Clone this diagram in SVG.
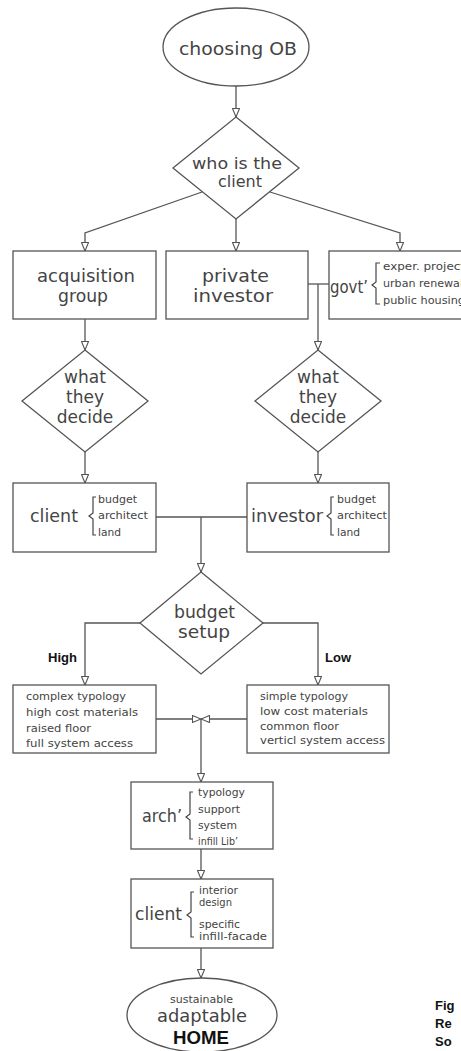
<svg xmlns="http://www.w3.org/2000/svg" width="461" height="1051" viewBox="0 0 461 1051">
  <defs>
    <style>
      .shape { fill: #fff; stroke: #555; stroke-width: 1.3; }
      .wire { fill: none; stroke: #555; stroke-width: 1.3; }
      .brace { fill: none; stroke: #444; stroke-width: 1.2; }
      text { font-family: "DejaVu Sans", "Liberation Sans", sans-serif; fill: #444; }
      .big { font-size: 17px; }
      .mid { font-size: 15px; }
      .small { font-size: 10.5px; }
      .lbl { font-family: "Liberation Sans", Arial, sans-serif; font-weight: bold; font-size: 13px; fill: #111; }
      .c { text-anchor: middle; }
    </style>
    <marker id="arr" viewBox="0 0 9 8" refX="9" refY="4" markerWidth="9" markerHeight="8" markerUnits="userSpaceOnUse" orient="auto">
      <path d="M0.5,0.5 L9,4 L0.5,7.5 Z" fill="#fff" stroke="#555" stroke-width="1.1"/>
    </marker>
  </defs>
  <rect width="461" height="1051" fill="#fff"/>

  <!-- connectors -->
  <g id="connectors">
    <path class="wire" d="M236,86 V117" marker-end="url(#arr)"/>
    <path class="wire" d="M202,192 L85,233 V251" marker-end="url(#arr)"/>
    <path class="wire" d="M236,219 V251" marker-end="url(#arr)"/>
    <path class="wire" d="M270,192 L400,233 V251" marker-end="url(#arr)"/>
    <path class="wire" d="M85,319 V350" marker-end="url(#arr)"/>
    <path class="wire" d="M308,284 H329"/>
    <path class="wire" d="M318,284 V350" marker-end="url(#arr)"/>
    <path class="wire" d="M85,452 V483" marker-end="url(#arr)"/>
    <path class="wire" d="M318,452 V483" marker-end="url(#arr)"/>
    <path class="wire" d="M156,517 H247"/>
    <path class="wire" d="M201,517 V572" marker-end="url(#arr)"/>
    <path class="wire" d="M140,623 H85 V685" marker-end="url(#arr)"/>
    <path class="wire" d="M263,623 H318 V685" marker-end="url(#arr)"/>
    <path class="wire" d="M156,719 H201" marker-end="url(#arr)"/>
    <path class="wire" d="M247,719 H201" marker-end="url(#arr)"/>
    <path class="wire" d="M201,719 V782" marker-end="url(#arr)"/>
    <path class="wire" d="M201,849 V879" marker-end="url(#arr)"/>
    <path class="wire" d="M201,948 V978" marker-end="url(#arr)"/>
  </g>

  <!-- start -->
  <g id="start">
    <ellipse class="shape" cx="236" cy="47" rx="73" ry="39"/>
    <text class="big" x="179" y="55" textLength="118" lengthAdjust="spacingAndGlyphs">choosing OB</text>
  </g>

  <g id="who-client">
    <path class="shape" d="M236,117 L299,168 L236,219 L173,168 Z"/>
    <text class="mid" x="192" y="169" textLength="90" lengthAdjust="spacingAndGlyphs">who is the</text>
    <text class="mid" x="218" y="187" textLength="44" lengthAdjust="spacingAndGlyphs">client</text>
  </g>

  <g id="acquisition-group">
    <rect class="shape" x="13" y="251" width="143" height="68"/>
    <text class="big" x="37" y="282" textLength="98" lengthAdjust="spacingAndGlyphs">acquisition</text>
    <text class="big" x="58" y="302" textLength="50" lengthAdjust="spacingAndGlyphs">group</text>
  </g>

  <g id="private-investor">
    <rect class="shape" x="166" y="251" width="142" height="68"/>
    <text class="big" x="202" y="282" textLength="67" lengthAdjust="spacingAndGlyphs">private</text>
    <text class="big" x="193" y="302" textLength="80" lengthAdjust="spacingAndGlyphs">investor</text>
  </g>

  <g id="govt">
    <rect class="shape" x="329" y="251" width="142" height="68"/>
    <text class="big" x="330" y="293" textLength="38" lengthAdjust="spacingAndGlyphs">govt’</text>
    <path class="brace" d="M380,263 H376 V282 L372,285 L376,288 V304 H380"/>
    <text class="small" x="383" y="270" textLength="82" lengthAdjust="spacingAndGlyphs">exper. project</text>
    <text class="small" x="383" y="287" textLength="80" lengthAdjust="spacingAndGlyphs">urban renewal</text>
    <text class="small" x="383" y="304" textLength="82" lengthAdjust="spacingAndGlyphs">public housing</text>
  </g>

  <g id="decide-left">
    <path class="shape" d="M85,350 L148,401 L85,452 L22,401 Z"/>
    <text class="big c" x="85" y="383">what</text>
    <text class="big c" x="85" y="403">they</text>
    <text class="big c" x="85" y="423">decide</text>
  </g>

  <g id="decide-right">
    <path class="shape" d="M318,350 L381,401 L318,452 L255,401 Z"/>
    <text class="big c" x="318" y="383">what</text>
    <text class="big c" x="318" y="403">they</text>
    <text class="big c" x="318" y="423">decide</text>
  </g>

  <g id="client">
    <rect class="shape" x="13" y="483" width="143" height="69"/>
    <text class="big" x="30" y="522" textLength="48" lengthAdjust="spacingAndGlyphs">client</text>
    <path class="brace" d="M96,497 H93 V513 L89,516 L93,519 V535 H96"/>
    <text class="small" x="98" y="503" textLength="39" lengthAdjust="spacingAndGlyphs">budget</text>
    <text class="small" x="98" y="519" textLength="50" lengthAdjust="spacingAndGlyphs">architect</text>
    <text class="small" x="98" y="536" textLength="23" lengthAdjust="spacingAndGlyphs">land</text>
  </g>

  <g id="investor">
    <rect class="shape" x="247" y="483" width="142" height="69"/>
    <text class="big" x="251" y="522" textLength="72" lengthAdjust="spacingAndGlyphs">investor</text>
    <path class="brace" d="M334,497 H331 V513 L327,516 L331,519 V535 H334"/>
    <text class="small" x="337" y="503" textLength="39" lengthAdjust="spacingAndGlyphs">budget</text>
    <text class="small" x="337" y="519" textLength="50" lengthAdjust="spacingAndGlyphs">architect</text>
    <text class="small" x="337" y="536" textLength="23" lengthAdjust="spacingAndGlyphs">land</text>
  </g>

  <g id="budget-setup">
    <path class="shape" d="M201,572 L263,623 L201,674 L140,623 Z"/>
    <text class="big" x="174" y="618" textLength="61" lengthAdjust="spacingAndGlyphs">budget</text>
    <text class="big" x="178" y="638" textLength="52" lengthAdjust="spacingAndGlyphs">setup</text>
  </g>

  <text class="lbl" x="48" y="662">High</text>
  <text class="lbl" x="325" y="662">Low</text>

  <g id="high-budget">
    <rect class="shape" x="13" y="685" width="143" height="68"/>
    <text class="small" x="26" y="700" textLength="100" lengthAdjust="spacingAndGlyphs">complex typology</text>
    <text class="small" x="26" y="716" textLength="112" lengthAdjust="spacingAndGlyphs">high cost materials</text>
    <text class="small" x="26" y="732" textLength="65" lengthAdjust="spacingAndGlyphs">raised floor</text>
    <text class="small" x="26" y="747" textLength="107" lengthAdjust="spacingAndGlyphs">full system access</text>
  </g>

  <g id="low-budget">
    <rect class="shape" x="247" y="685" width="142" height="68"/>
    <text class="small" x="260" y="700" textLength="88" lengthAdjust="spacingAndGlyphs">simple typology</text>
    <text class="small" x="260" y="715" textLength="108" lengthAdjust="spacingAndGlyphs">low cost materials</text>
    <text class="small" x="260" y="730" textLength="79" lengthAdjust="spacingAndGlyphs">common floor</text>
    <text class="small" x="260" y="744" textLength="125" lengthAdjust="spacingAndGlyphs">verticl system access</text>
  </g>

  <g id="arch">
    <rect class="shape" x="131" y="782" width="142" height="67"/>
    <text class="big" x="142" y="822" textLength="40" lengthAdjust="spacingAndGlyphs">arch’</text>
    <path class="brace" d="M193,792 H190 V814 L186,817 L190,820 V839 H193"/>
    <text class="small" x="198" y="796" textLength="47" lengthAdjust="spacingAndGlyphs">typology</text>
    <text class="small" x="198" y="813" textLength="42" lengthAdjust="spacingAndGlyphs">support</text>
    <text class="small" x="198" y="829" textLength="39" lengthAdjust="spacingAndGlyphs">system</text>
    <text class="small" x="198" y="845" textLength="40" lengthAdjust="spacingAndGlyphs">infill Lib’</text>
  </g>

  <g id="client-design">
    <rect class="shape" x="131" y="879" width="142" height="69"/>
    <text class="big" x="135" y="920" textLength="47" lengthAdjust="spacingAndGlyphs">client</text>
    <path class="brace" d="M194,892 H191 V912 L187,915 L191,918 V937 H194"/>
    <text class="small" x="199" y="894" textLength="39" lengthAdjust="spacingAndGlyphs">interior</text>
    <text class="small" x="199" y="906" textLength="33" lengthAdjust="spacingAndGlyphs">design</text>
    <text class="small" x="199" y="928" textLength="41" lengthAdjust="spacingAndGlyphs">specific</text>
    <text class="small" x="199" y="940" textLength="68" lengthAdjust="spacingAndGlyphs">infill-facade</text>
  </g>

  <g id="home">
    <ellipse class="shape" cx="202" cy="1015" rx="75" ry="37"/>
    <text class="small" x="170" y="1003" textLength="63" lengthAdjust="spacingAndGlyphs">sustainable</text>
    <text class="big" x="157" y="1022" textLength="90" lengthAdjust="spacingAndGlyphs">adaptable</text>
    <text class="lbl" x="173" y="1044" style="font-size:18px" textLength="56" lengthAdjust="spacingAndGlyphs">HOME</text>
  </g>

  <!-- caption, cut at the right edge -->
  <text class="lbl" x="435" y="1010">Fig</text>
  <text class="lbl" x="435" y="1028">Re</text>
  <text class="lbl" x="435" y="1046">So</text>
</svg>
